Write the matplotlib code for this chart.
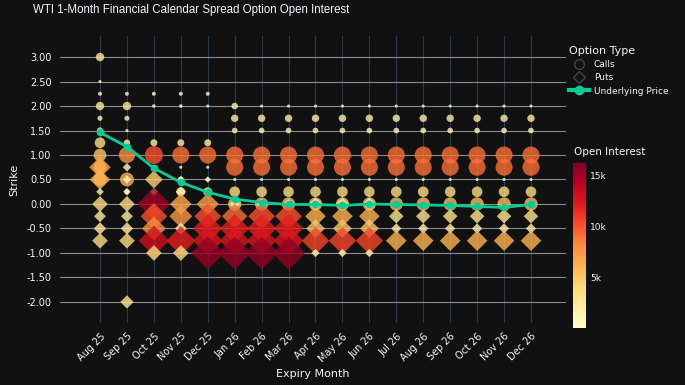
"""WTI 1-month calendar spread option open interest bubble chart"""

import matplotlib
matplotlib.use("Agg")
import matplotlib.pyplot as plt
from matplotlib.lines import Line2D
from matplotlib.colors import Normalize
import matplotlib.cm as cm
import numpy as np

months = ["Aug 25", "Sep 25", "Oct 25", "Nov 25", "Dec 25", "Jan 26", "Feb 26", "Mar 26",
          "Apr 26", "May 26", "Jun 26", "Jul 26", "Aug 26", "Sep 26", "Oct 26", "Nov 26", "Dec 26"]

strikes = [3.00, 2.50, 2.25, 2.00, 1.75, 1.50, 1.25, 1.00, 0.75, 0.50, 0.25, 0.00,
           -0.25, -0.50, -0.75, -1.00, -2.00]

# open interest per strike row, one value per expiry month (0 = no position)
call_oi = [
    [2200, 0, 0, 0, 0, 0, 0, 0, 0, 0, 0, 0, 0, 0, 0, 0, 0],                                   # 3.00
    [300, 0, 0, 0, 0, 0, 0, 0, 0, 0, 0, 0, 0, 0, 0, 0, 0],                                    # 2.50
    [500, 500, 500, 500, 500, 0, 0, 0, 0, 0, 0, 0, 0, 0, 0, 0, 0],                            # 2.25
    [2200, 2200, 400, 400, 300, 1300, 300, 300, 300, 300, 300, 300, 300, 300, 300, 300, 300], # 2.00
    [800, 800, 0, 0, 0, 1700, 1700, 1700, 1700, 1700, 1700, 1700, 1700, 1700, 1700, 1700, 1700],
    [1200, 0, 0, 0, 0, 1000, 1000, 1000, 1000, 1000, 1000, 1000, 1000, 1000, 1000, 1000, 1000],
    [3500, 1300, 1500, 1500, 1500, 0, 0, 0, 0, 0, 0, 0, 0, 0, 0, 0, 0],                       # 1.25
    [5000, 8000, 10000, 9000, 9000, 9000, 9000, 9000, 9000, 9000, 9000, 9000, 9000, 9000, 9000, 9000, 9000],
    [5000, 0, 0, 300, 300, 9000, 9000, 9000, 9000, 9000, 9000, 9000, 9000, 9000, 9000, 9000, 9000],
    [5000, 6000, 0, 1000, 300, 300, 300, 300, 300, 300, 300, 300, 300, 300, 300, 300, 300],   # 0.50
    [0, 800, 800, 2500, 2500, 3500, 3500, 3500, 3500, 3500, 3500, 3500, 3500, 3500, 3500, 3500, 3500],
    [0, 0, 0, 0, 0, 5500, 5500, 5500, 5500, 5500, 5500, 5500, 5500, 5500, 5500, 5500, 5500],  # 0.00
    [0] * 17,
    [0] * 17,
    [0] * 17,
    [0] * 17,
    [0] * 17,
]

put_oi = [
    [0] * 17,
    [0] * 17,
    [0] * 17,
    [0] * 17,
    [0] * 17,
    [0, 200, 0, 0, 0, 0, 0, 0, 0, 0, 0, 0, 0, 0, 0, 0, 0],                                    # 1.50
    [0] * 17,
    [0] * 17,
    [6500, 1000, 0, 0, 0, 0, 0, 0, 0, 0, 0, 0, 0, 0, 0, 0, 0],                                # 0.75
    [6000, 1000, 4500, 800, 600, 0, 0, 0, 0, 0, 0, 0, 0, 0, 0, 0, 0],                         # 0.50
    [800, 800, 800, 1500, 0, 0, 0, 0, 0, 0, 0, 0, 0, 0, 0, 0, 0],                             # 0.25
    [3500, 3500, 15000, 6500, 7000, 1500, 1500, 1500, 2500, 2500, 2500, 0, 0, 0, 0, 0, 0],   # 0.00
    [2000, 2000, 10000, 7500, 10000, 9000, 10000, 10000, 6000, 6000, 6000, 3000, 3000, 3000, 3000, 3000, 3000],
    [2200, 2200, 8000, 2000, 12000, 12000, 12000, 12000, 5000, 5000, 5000, 1500, 1500, 1500, 1500, 1500, 1500],
    [3500, 3500, 13000, 12000, 12500, 12500, 12500, 12500, 10500, 10500, 10500, 6000, 6000, 6000, 6000, 6000, 6000],
    [0, 0, 3500, 3500, 15500, 15500, 15500, 15500, 1000, 1000, 1000, 0, 0, 0, 0, 0, 0],      # -1.00
    [0, 2500, 0, 0, 0, 0, 0, 0, 0, 0, 0, 0, 0, 0, 0, 0, 0],                                   # -2.00
]

underlying = [1.46, 1.17, 0.73, 0.44, 0.24, 0.10, 0.03, -0.01, -0.01, -0.03, 0.00,
              -0.01, -0.02, -0.03, -0.05, -0.07, -0.01]

BG = "#111111"
TXT = "#f2f5fa"
OI_MAX = 16200


def points(table):
    xs, ys, vals = [], [], []
    for j in range(len(months)):
        for i, k in enumerate(strikes):
            v = table[i][j]
            if v > 0:
                xs.append(j); ys.append(k); vals.append(v)
    return np.array(xs), np.array(ys), np.array(vals, dtype=float)


fig = plt.figure(figsize=(6.85, 3.85), dpi=100, facecolor=BG)
ax = fig.add_axes([60 / 685, 1 - 323 / 385, 506 / 685, 287 / 385], facecolor=BG)

norm = Normalize(vmin=0, vmax=OI_MAX)
cmap = plt.get_cmap("YlOrRd")

# size ~ sqrt(OI): 9000 contracts -> 17 px diameter
px_per_oi = (17 * 0.72) ** 2 / 9000

cx, cy, cv = points(call_oi)
ax.scatter(cx, cy, s=cv * px_per_oi, c=cv, cmap=cmap, norm=norm, marker="o",
           alpha=0.8, linewidths=0, zorder=3)
px, py, pv = points(put_oi)
ax.scatter(px, py, s=pv * px_per_oi * 1.1, c=pv, cmap=cmap, norm=norm, marker="D",
           alpha=0.8, linewidths=0, zorder=4)

ax.plot(range(len(months)), underlying, color="#00cc96", lw=2, marker="o", ms=4.5, zorder=5)

ax.set_xlim(-1.485, 17.3)
ax.set_ylim(-2.43, 3.43)
ax.set_xticks(range(len(months)))
ax.set_xticklabels(months, rotation=45, ha="right", rotation_mode="anchor", fontsize=7, color=TXT)
yt = np.arange(-2.0, 3.01, 0.5)
ax.set_yticks(yt)
ax.set_yticklabels([f"{v:.2f}" for v in yt], fontsize=7, color=TXT)
ax.tick_params(length=0, pad=6)
ax.grid(axis="y", color="#8c8c8c", lw=0.8, zorder=0)
ax.grid(axis="x", color="#2c3a48", lw=0.8, zorder=0)
ax.set_axisbelow(True)
for sp in ax.spines.values():
    sp.set_visible(False)

ax.set_xlabel("Expiry Month", fontsize=8, color=TXT, labelpad=4)
ax.set_ylabel("Strike", fontsize=8, color=TXT, labelpad=5)

fig.text(33 / 685, 1 - 10 / 385, "WTI 1-Month Financial Calendar Spread Option Open Interest",
         fontsize=8.3, color=TXT, va="center", ha="left",
         family=["Liberation Sans", "DejaVu Sans"])

# legend
handles = [
    Line2D([], [], ls="none", marker="o", ms=7, mfc="#111111", mec="#444444", label="Calls"),
    Line2D([], [], ls="none", marker="D", ms=6, mfc="#111111", mec="#444444", label="Puts"),
    Line2D([], [], color="#00cc96", lw=3, marker="o", ms=6, label="Underlying Price"),
]
leg = fig.legend(handles=handles, title="Option Type", loc="upper left",
                 bbox_to_anchor=(563 / 685, 1 - 40 / 385), frameon=False,
                 fontsize=6.5, title_fontsize=8, labelcolor=TXT, handlelength=2.2,
                 handletextpad=0.5, labelspacing=0.45, borderpad=0.2)
leg.get_title().set_color(TXT)
leg._legend_box.align = "left"

# colorbar
cax = fig.add_axes([573 / 685, 1 - 328 / 385, 13 / 685, 165 / 385])
cb = fig.colorbar(cm.ScalarMappable(norm=norm, cmap=cmap), cax=cax)
cb.outline.set_visible(False)
cb.set_ticks([5000, 10000, 15000])
cb.set_ticklabels(["5k", "10k", "15k"])
cax.tick_params(length=0, labelsize=6.5, labelcolor=TXT, pad=3)
fig.text(574 / 685, 1 - 152 / 385, "Open Interest", fontsize=7.5, color=TXT, va="center")

fig.savefig("out.png", dpi=100, facecolor=BG)
